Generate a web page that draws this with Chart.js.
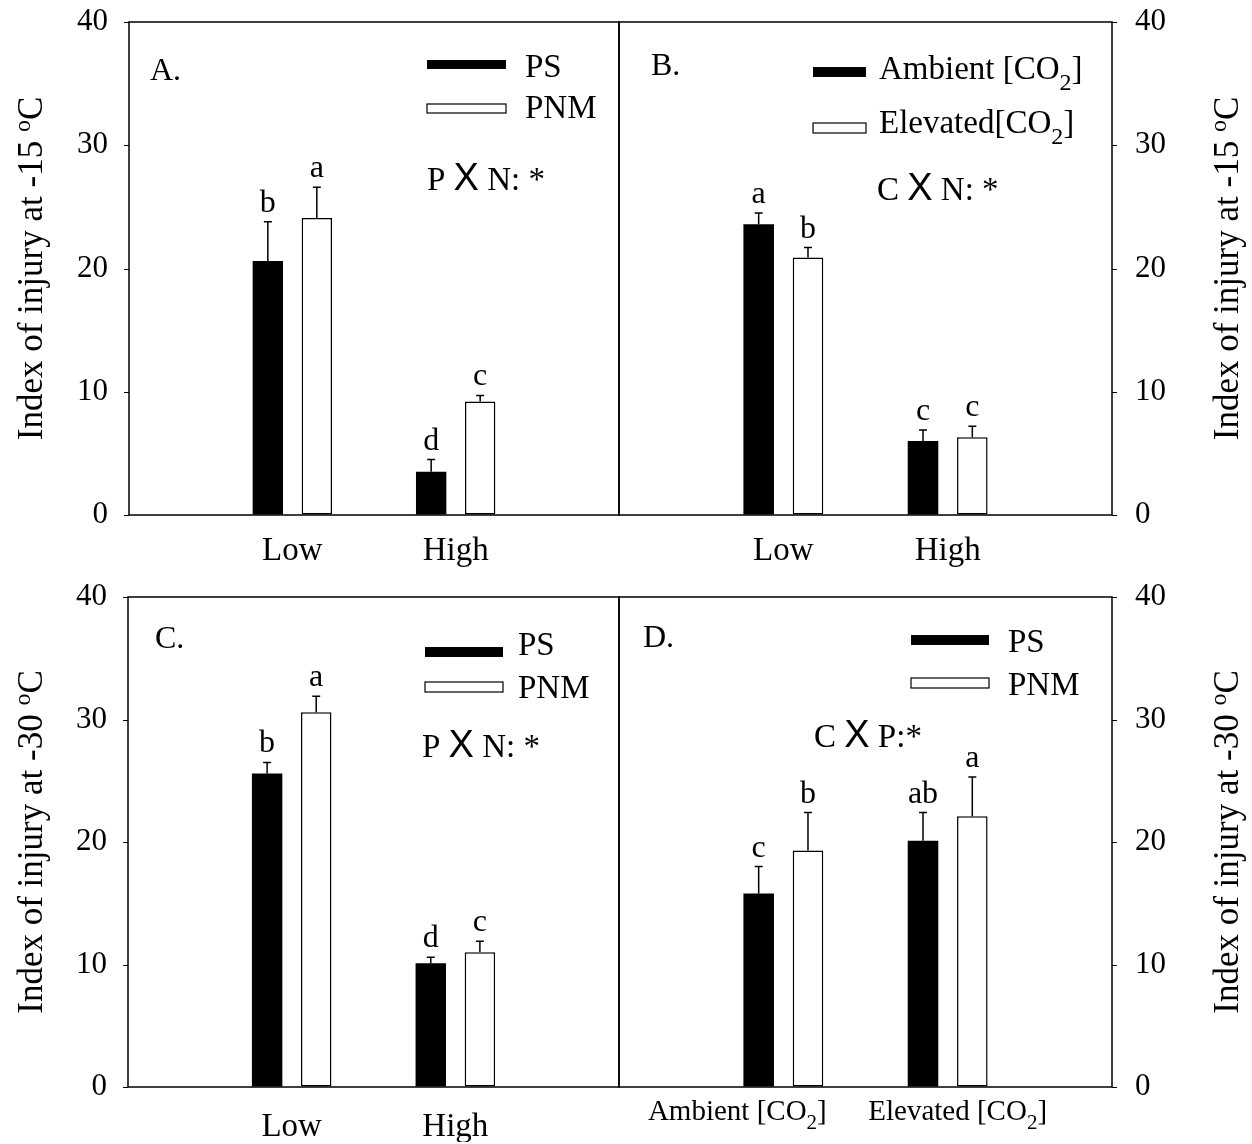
<!DOCTYPE html>
<html>
<head>
<meta charset="utf-8">
<script src="https://cdn.jsdelivr.net/npm/chart.js@4.4.1/dist/chart.umd.min.js"></script>
<style>
    html, body { margin: 0; padding: 0; background: #fff; }
    #wrap { position: relative; width: 1252px; height: 1144px; }
    #wrap canvas { position: absolute; left: 0; top: 0; }
</style>
</head>
<body>
<div id="wrap">
    <canvas id="chartA" width="1252" height="1144"></canvas>
    <canvas id="chartB" width="1252" height="1144"></canvas>
    <canvas id="chartC" width="1252" height="1144"></canvas>
    <canvas id="chartD" width="1252" height="1144"></canvas>
</div>
<script>
/* Data */
const nitrogenLevels = ['', 'Low', 'High', ''];
const co2Levels = ['', 'Ambient', 'Elevated', ''];
const yMin = 0;
const yMax = 40;
const yStep = 10;

// A. index of injury at -15 oC, phosphorus source x nitrogen
const aPS = [null, 20.6, 3.5, null];
const aPSErr = [null, 3.2, 1.0, null];
const aPSLetters = [null, 'b', 'd', null];
const aPNM = [null, 24.1, 9.2, null];
const aPNMErr = [null, 2.5, 0.5, null];
const aPNMLetters = [null, 'a', 'c', null];

// B. index of injury at -15 oC, CO2 x nitrogen
const bAmbient = [null, 23.6, 6.0, null];
const bAmbientErr = [null, 0.9, 0.9, null];
const bAmbientLetters = [null, 'a', 'c', null];
const bElevated = [null, 20.9, 6.3, null];
const bElevatedErr = [null, 0.8, 0.9, null];
const bElevatedLetters = [null, 'b', 'c', null];

// C. index of injury at -30 oC, phosphorus source x nitrogen
const cPS = [null, 25.6, 10.1, null];
const cPSErr = [null, 0.9, 0.5, null];
const cPSLetters = [null, 'b', 'd', null];
const cPNM = [null, 30.6, 11.0, null];
const cPNMErr = [null, 1.3, 0.9, null];
const cPNMLetters = [null, 'a', 'c', null];

// D. index of injury at -30 oC, CO2 x phosphorus source
const dPS = [null, 15.8, 20.1, null];
const dPSErr = [null, 2.2, 2.3, null];
const dPSLetters = [null, 'c', 'ab', null];
const dPNM = [null, 19.3, 22.1, null];
const dPNMErr = [null, 3.1, 3.2, null];
const dPNMLetters = [null, 'b', 'a', null];


const SERIF = '"Liberation Serif", "Times New Roman", serif';
const SANS = '"Liberation Sans", Arial, sans-serif';
const W = 1252;
const H = 1144;

function font(size, family) {
    return size + 'px ' + (family || SERIF);
}

/* Draw a run of text pieces (for sub/superscripts and mixed fonts) */
function drawRuns(ctx, runs, x, y, align) {
    let total = 0;
    runs.forEach(r => {
        ctx.font = font(r.size, r.family);
        r.w = ctx.measureText(r.text).width;
        total += r.w;
    });
    let cx = align === 'center' ? x - total / 2 : x;
    ctx.textAlign = 'left';
    ctx.textBaseline = 'alphabetic';
    runs.forEach(r => {
        ctx.font = font(r.size, r.family);
        ctx.fillText(r.text, cx, y + (r.dy || 0));
        cx += r.w;
    });
}

function co2Runs(name, size) {
    return [
        {text: name + '[CO', size: size},
        {text: '2', size: Math.round(size * 0.72), dy: Math.round(size * 0.32)},
        {text: ']', size: size},
    ];
}

function titleRuns(temp) {
    return [
        {text: 'Index of injury at ' + temp + ' ', size: 35},
        {text: 'o', size: 24, dy: -12},
        {text: 'C', size: 35},
    ];
}

function makePlugin(deco, side) {
    return {
        id: 'panelDeco',
        afterDatasetsDraw(chart) {
            const ctx = chart.ctx;
            const yScale = chart.scales.y;
            ctx.save();
            ctx.strokeStyle = '#000';
            ctx.fillStyle = '#000';
            ctx.lineWidth = 1.5;
            chart.data.datasets.forEach((ds, i) => {
                const meta = chart.getDatasetMeta(i);
                meta.data.forEach((bar, j) => {
                    const v = ds.data[j];
                    if (v === null || v === undefined) return;
                    const yTop = yScale.getPixelForValue(v + ds.errors[j]);
                    ctx.beginPath();
                    ctx.moveTo(bar.x, bar.y);
                    ctx.lineTo(bar.x, yTop);
                    ctx.moveTo(bar.x - 4, yTop);
                    ctx.lineTo(bar.x + 4, yTop);
                    ctx.stroke();
                    ctx.font = font(32);
                    ctx.textAlign = 'center';
                    ctx.textBaseline = 'alphabetic';
                    ctx.fillText(ds.letters[j], bar.x, yTop - 10);
                });
            });
            ctx.restore();
        },
        afterDraw(chart) {
            const ctx = chart.ctx;
            const a = chart.chartArea;
            const yScale = chart.scales.y;
            ctx.save();
            ctx.strokeStyle = '#000';
            ctx.fillStyle = '#000';

            // frame
            ctx.lineWidth = 1.5;
            ctx.strokeRect(a.left, a.top, a.right - a.left, a.bottom - a.top);

            // short outward tick marks
            ctx.lineWidth = 1.2;
            ctx.beginPath();
            yScale.ticks.forEach(tk => {
                const py = Math.round(yScale.getPixelForValue(tk.value)) + 0.5;
                if (side === 'left') {
                    ctx.moveTo(a.left - 5, py);
                    ctx.lineTo(a.left, py);
                } else {
                    ctx.moveTo(a.right, py);
                    ctx.lineTo(a.right + 5, py);
                }
            });
            ctx.stroke();

            // panel letter
            ctx.font = font(32);
            ctx.textAlign = 'left';
            ctx.textBaseline = 'alphabetic';
            ctx.fillText(deco.panel[0], deco.panel[1], deco.panel[2]);

            // legend
            const lg = deco.legend;
            lg.rows.forEach(row => {
                if (row.fill) {
                    ctx.fillRect(lg.x, row.y, lg.w, lg.h);
                } else {
                    ctx.lineWidth = 1.2;
                    ctx.fillStyle = '#fff';
                    ctx.fillRect(lg.x, row.y, lg.w, lg.h);
                    ctx.fillStyle = '#000';
                    ctx.strokeRect(lg.x, row.y, lg.w, lg.h);
                }
                drawRuns(ctx, row.runs, lg.textX, row.base, 'left');
            });

            // interaction note
            const it = deco.interaction;
            drawRuns(ctx, [
                {text: it.a + ' ', size: 33},
                {text: 'X', size: 38, family: SANS},
                {text: it.b, size: 33},
            ], it.x, it.y, 'left');

            // y axis title, reading bottom to top
            const t = deco.title;
            ctx.save();
            ctx.translate(t.x, (a.top + a.bottom) / 2);
            ctx.rotate(-Math.PI / 2);
            drawRuns(ctx, titleRuns(t.temp), 0, 0, 'center');
            ctx.restore();

            // custom category labels (with subscripts)
            if (deco.xLabels) {
                const xs = chart.scales.x;
                deco.xLabels.forEach(lab => {
                    const px = xs.getPixelForValue(lab.index) + lab.dx;
                    drawRuns(ctx, co2Runs(lab.name, 29), px, a.bottom + 33, 'center');
                });
            }
            ctx.restore();
        }
    };
}

function makePanel(id, area, side, labels, datasets, deco, xPad, hideTicks) {
    const yWidth = side === 'left' ? area.left : W - area.right;
    const xHeight = Math.min(60, H - area.bottom - 2);
    return new Chart(document.getElementById(id), {
        type: 'bar',
        data: {
            labels: labels,
            datasets: datasets,
        },
        options: {
            responsive: false,
            animation: false,
            events: [],
            layout: {
                padding: {
                    left: side === 'left' ? 0 : area.left,
                    right: side === 'left' ? W - area.right : 0,
                    top: area.top,
                    bottom: H - area.bottom - xHeight,
                }
            },
            plugins: {
                legend: {display: false},
                tooltip: {enabled: false},
            },
            scales: {
                x: {
                    offset: false,
                    grid: {display: false, drawTicks: false},
                    border: {display: false},
                    ticks: {
                        color: '#000',
                        font: {family: SERIF, size: 33},
                        padding: xPad,
                        autoSkip: false,
                        maxRotation: 0,
                        callback: function(value) {
                            return hideTicks ? '' : this.getLabelForValue(value);
                        },
                    },
                    afterFit: function(scale) { scale.height = xHeight; },
                },
                y: {
                    position: side,
                    min: yMin,
                    max: yMax,
                    ticks: {
                        stepSize: yStep,
                        color: '#000',
                        font: {family: SERIF, size: 31},
                        padding: 0,
                    },
                    // tick marks are drawn by the plugin; this only spaces the labels
                    grid: {drawOnChartArea: false, tickLength: side === 'left' ? 21 : 23, color: 'rgba(0,0,0,0)'},
                    border: {display: false},
                    afterFit: function(scale) { scale.width = yWidth; },
                },
            },
        },
        plugins: [makePlugin(deco, side)],
    });
}

function barSet(label, data, errors, letters, filled) {
    return {
        label: label,
        data: data,
        errors: errors,
        letters: letters,
        backgroundColor: filled ? '#000' : '#fff',
        borderColor: '#000',
        borderWidth: filled ? 0 : 1.5,
        borderSkipped: false,
        barPercentage: 0.62,
        categoryPercentage: 0.6,
    };
}

const psRuns = [{text: 'PS', size: 33}];
const pnmRuns = [{text: 'PNM', size: 33}];

makePanel('chartA', {left: 129, right: 619, top: 22, bottom: 515}, 'left', nitrogenLevels, [
    barSet('PS', aPS, aPSErr, aPSLetters, true),
    barSet('PNM', aPNM, aPNMErr, aPNMLetters, false),
], {
    panel: ['A.', 150, 80],
    legend: {x: 427, w: 79, h: 9, textX: 525, rows: [
        {y: 60, base: 77, fill: true, runs: psRuns},
        {y: 104, base: 118, fill: false, runs: pnmRuns},
    ]},
    interaction: {a: 'P', b: ' N: *', x: 427, y: 190},
    title: {x: 42, temp: '-15'},
}, 17);

makePanel('chartB', {left: 619, right: 1112, top: 22, bottom: 515}, 'right', nitrogenLevels, [
    barSet('Ambient [CO2]', bAmbient, bAmbientErr, bAmbientLetters, true),
    barSet('Elevated[CO2]', bElevated, bElevatedErr, bElevatedLetters, false),
], {
    panel: ['B.', 651, 75],
    legend: {x: 813, w: 53, h: 10, textX: 879, rows: [
        {y: 67, base: 79, fill: true, runs: co2Runs('Ambient ', 33)},
        {y: 123, base: 133, fill: false, runs: co2Runs('Elevated', 33)},
    ]},
    interaction: {a: 'C', b: ' N: *', x: 877, y: 200},
    title: {x: 1238, temp: '-15'},
}, 17);

makePanel('chartC', {left: 128, right: 619, top: 597, bottom: 1087}, 'left', nitrogenLevels, [
    barSet('PS', cPS, cPSErr, cPSLetters, true),
    barSet('PNM', cPNM, cPNMErr, cPNMLetters, false),
], {
    panel: ['C.', 155, 648],
    legend: {x: 425, w: 78, h: 10, textX: 518, rows: [
        {y: 647, base: 655, fill: true, runs: psRuns},
        {y: 682, base: 698, fill: false, runs: pnmRuns},
    ]},
    interaction: {a: 'P', b: ' N: *', x: 422, y: 757},
    title: {x: 42, temp: '-30'},
}, 21);

makePanel('chartD', {left: 619, right: 1112, top: 597, bottom: 1087}, 'right', co2Levels, [
    barSet('PS', dPS, dPSErr, dPSLetters, true),
    barSet('PNM', dPNM, dPNMErr, dPNMLetters, false),
], {
    panel: ['D.', 643, 647],
    legend: {x: 911, w: 78, h: 10, textX: 1008, rows: [
        {y: 635, base: 652, fill: true, runs: psRuns},
        {y: 678, base: 695, fill: false, runs: pnmRuns},
    ]},
    interaction: {a: 'C', b: ' P:*', x: 814, y: 747},
    title: {x: 1238, temp: '-30'},
    xLabels: [
        {index: 1, name: 'Ambient ', dx: -46},
        {index: 2, name: 'Elevated ', dx: 10},
    ],
}, 21, true);
</script>
</body>
</html>
